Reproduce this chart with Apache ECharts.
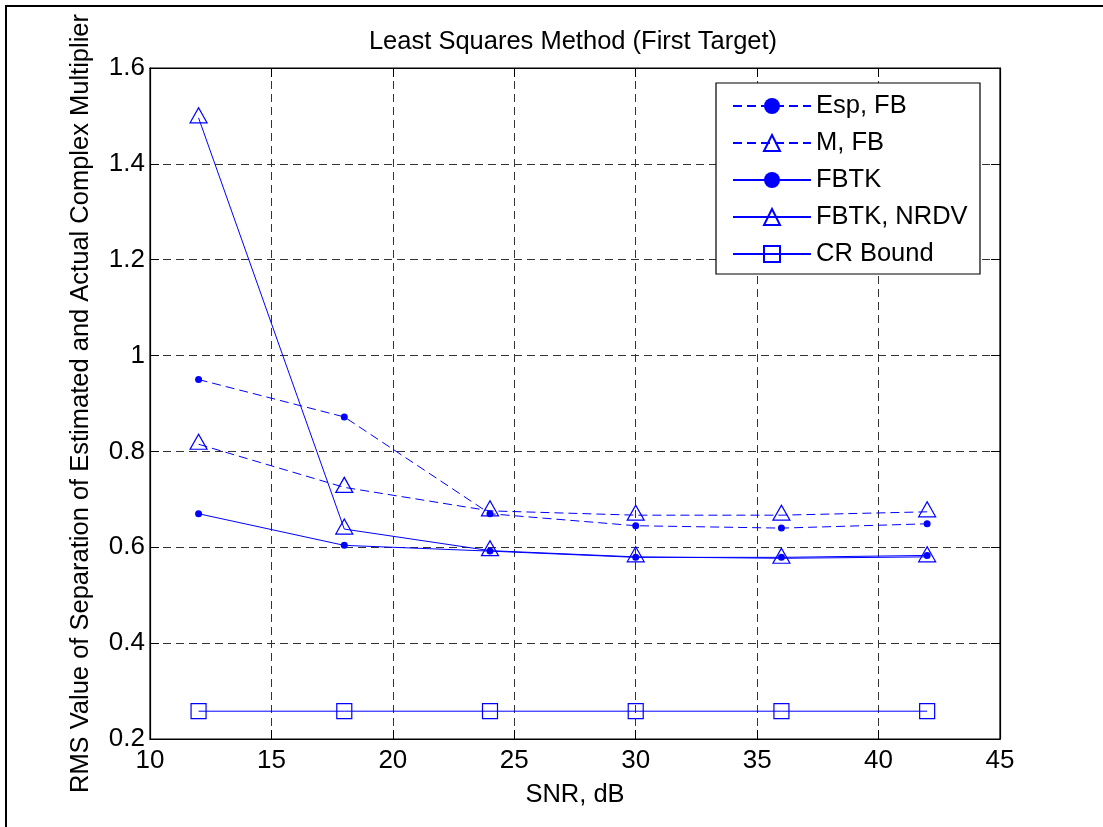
<!DOCTYPE html>
<html><head><meta charset="utf-8">
<script src="https://cdn.jsdelivr.net/npm/echarts@6/dist/echarts.min.js"></script>
<style>html,body{margin:0;padding:0;background:#fff}#c{width:1103px;height:827px}</style>
</head><body><div id="c"></div>
<script>
var snr = [12, 18, 24, 30, 36, 42];
var espFB = [0.950, 0.872, 0.670, 0.645, 0.640, 0.649];
var mFB = [0.815, 0.725, 0.676, 0.667, 0.667, 0.674];
var fbtk = [0.670, 0.604, 0.592, 0.579, 0.579, 0.583];
var fbtkNrdv = [1.496, 0.638, 0.593, 0.580, 0.577, 0.580];
var crBound = [0.258, 0.258, 0.258, 0.258, 0.258, 0.258];
var seriesNames = ['Esp, FB', 'M, FB', 'FBTK', 'FBTK, NRDV', 'CR Bound'];
var xTicks = [10, 15, 20, 25, 30, 35, 40, 45];
var yTicks = [0.2, 0.4, 0.6, 0.8, 1, 1.2, 1.4, 1.6];

var FONT = '"Liberation Sans", Arial, sans-serif';
var BLUE = '#0000ff';
function pairs(v){ return snr.map(function(x,i){ return [x, v[i]]; }); }
function mk(name, vals, dashed, symbol, size, filled, offset){
  return {
    name: name, type: 'line', data: pairs(vals), xAxisIndex: 0, yAxisIndex: 0,
    symbol: symbol, symbolSize: size, symbolOffset: offset || [0,0],
    showSymbol: true, animation: false, z: 3,
    lineStyle: {color: BLUE, width: 1, type: dashed ? [9,5] : 'solid'},
    itemStyle: filled ? {color: BLUE, borderColor: BLUE, borderWidth: 0}
                      : {color: 'rgba(255,255,255,0)', borderColor: BLUE, borderWidth: 1.2},
    emphasis: {disabled: true}
  };
}
var chart = echarts.init(document.getElementById('c'), null, {renderer: 'canvas'});
chart.setOption({
  animation: false,
  textStyle: {fontFamily: FONT},
  grid: {left: 150, right: 103, top: 68, bottom: 88, show: true, borderColor: '#000', borderWidth: 1.2, backgroundColor: '#fff'},
  graphic: [
    {type: 'rect', shape: {x: 6, y: 6, width: 1120, height: 840}, style: {fill: 'none', stroke: '#000', lineWidth: 2}, silent: true, z: -10},
    {type: 'text', x: 573, y: 42, style: {text: 'Least Squares Method (First Target)', font: '25.5px ' + FONT, fill: '#000', textAlign: 'center', textVerticalAlign: 'middle'}},
    {type: 'rect', shape: {x: 716, y: 83, width: 264, height: 191}, style: {fill: '#fff', stroke: '#000', lineWidth: 1.2}, z: 50}
  ],
  legend: {
    data: seriesNames, orient: 'vertical', left: 732, top: 93, padding: 0,
    itemWidth: 78, itemHeight: 20, itemGap: 11, z: 60,
    textStyle: {fontSize: 25.5, fontFamily: FONT, color: '#000', padding: [0,0,0,0]},
    selectedMode: false
  },
  xAxis: [
    {type: 'value', min: 10, max: 45, interval: 5, position: 'bottom',
     name: 'SNR, dB', nameLocation: 'middle', nameGap: 43,
     nameTextStyle: {fontSize: 25.5, color: '#000', fontFamily: FONT},
     axisLine: {show: true, lineStyle: {color: '#000', width: 1.2}},
     axisTick: {show: true, inside: true, length: 9, lineStyle: {color: '#000'}},
     axisLabel: {fontSize: 26, color: '#000', margin: 9, fontFamily: FONT},
     splitLine: {show: true, lineStyle: {color: '#333', type: [8,5], width: 1}}},
    {type: 'value', min: 10, max: 45, interval: 5, position: 'top',
     axisLine: {show: true, lineStyle: {color: '#000', width: 1.2}},
     axisTick: {show: true, inside: true, length: 9, lineStyle: {color: '#000'}},
     axisLabel: {show: false}, splitLine: {show: false}}
  ],
  yAxis: [
    {type: 'value', min: 0.2, max: 1.6, interval: 0.2, position: 'left',
     name: 'RMS Value of Separation of Estimated and Actual Complex Multiplier',
     nameLocation: 'middle', nameGap: 56,
     nameTextStyle: {fontSize: 25.5, color: '#000', fontFamily: FONT},
     axisLine: {show: true, lineStyle: {color: '#000', width: 1.2}},
     axisTick: {show: true, inside: true, length: 9, lineStyle: {color: '#000'}},
     axisLabel: {fontSize: 26, color: '#000', margin: 5, fontFamily: FONT,
       formatter: function(v){ return String(Math.round(v*10)/10); }},
     splitLine: {show: true, lineStyle: {color: '#333', type: [8,5], width: 1}}},
    {type: 'value', min: 0.2, max: 1.6, interval: 0.2, position: 'right',
     axisLine: {show: true, lineStyle: {color: '#000', width: 1.2}},
     axisTick: {show: true, inside: true, length: 9, lineStyle: {color: '#000'}},
     axisLabel: {show: false}, splitLine: {show: false}}
  ],
  series: [
    mk(seriesNames[0], espFB, true, 'circle', 7, true),
    mk(seriesNames[1], mFB, true, 'triangle', [17,15], false, [0,-2.5]),
    mk(seriesNames[2], fbtk, false, 'circle', 7, true),
    mk(seriesNames[3], fbtkNrdv, false, 'triangle', [17,15], false, [0,-2.5]),
    mk(seriesNames[4], crBound, false, 'rect', 15, false)
  ]
});
</script></body></html>
